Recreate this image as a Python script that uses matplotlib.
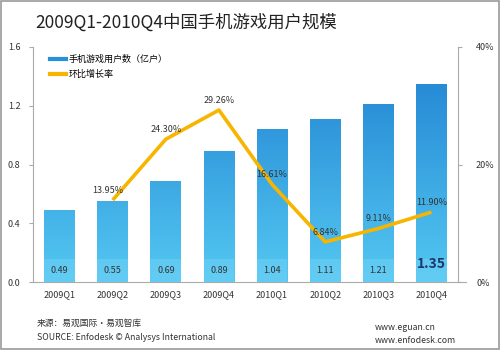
import matplotlib
matplotlib.use("Agg")
import matplotlib.pyplot as plt
import numpy as np
from matplotlib.colors import LinearSegmentedColormap
from matplotlib.lines import Line2D

plt.rcParams['font.family'] = ['Noto Sans CJK SC', 'DejaVu Sans']

categories = ['2009Q1', '2009Q2', '2009Q3', '2009Q4', '2010Q1', '2010Q2', '2010Q3', '2010Q4']
users = [0.49, 0.55, 0.69, 0.89, 1.04, 1.11, 1.21, 1.35]
growth = [None, 13.95, 24.30, 29.26, 16.61, 6.84, 9.11, 11.90]
left_ticks = [0.0, 0.4, 0.8, 1.2, 1.6]
right_ticks = [0, 20, 40]

fig = plt.figure(figsize=(5, 3.5), dpi=100)
fig.patch.set_facecolor('white')
# border
fig.add_artist(plt.Rectangle((0.002, 0.003), 0.996, 0.994, transform=fig.transFigure,
                             fill=False, edgecolor='#999999', lw=1.2))

ax = fig.add_axes([0.066, 0.194, 0.85, 0.672])
ax.set_xlim(-0.5, len(categories) - 0.5)
ax.set_ylim(0, 1.6)
x = np.arange(len(categories))

cmap = LinearSegmentedColormap.from_list('g', ['#54C8F2', '#1E7FD0'])
grad = np.linspace(0, 1, 256).reshape(-1, 1)
bw = 0.58
bars = ax.bar(x, users, width=bw, color='none', zorder=2)
for b in bars:
    x0, y0, w, h = b.get_x(), b.get_y(), b.get_width(), b.get_height()
    im = ax.imshow(grad, extent=[x0, x0 + w, 0, h], origin='lower', cmap=cmap,
                   aspect='auto', zorder=2, vmin=0, vmax=1.0 * 1.6 / h if h > 0 else 1)
    im.set_clip_path(b)
    # light box at bottom
    ax.add_patch(plt.Rectangle((x0, 0.0), w, 0.16, facecolor='#6FD0F5', edgecolor='none',
                               alpha=0.55, zorder=3))
ax.set_aspect('auto')
ax.set_xlim(-0.5, len(categories) - 0.5)
ax.set_ylim(0, 1.6)

for i, v in enumerate(users):
    if i == len(users) - 1:
        ax.text(i, 0.125, f'{v:.2f}', ha='center', va='center', fontsize=10,
                fontweight='bold', color='#1A3A6E', zorder=5)
    else:
        ax.text(i, 0.08, f'{v:.2f}', ha='center', va='center', fontsize=6.5,
                color='#333333', zorder=5)

for s in ['top', 'right', 'bottom']:
    ax.spines[s].set_visible(False)
ax.spines['left'].set_color('#AAAAAA')
ax.set_yticks(left_ticks)
ax.set_yticklabels([f'{t:.1f}' for t in left_ticks], fontsize=6.5, color='#333333')
ax.tick_params(axis='y', length=3, color='#AAAAAA', pad=6)
ax.set_xticks(x)
ax.set_xticklabels(categories, fontsize=6.5, color='#333333')
ax.tick_params(axis='x', length=0, pad=6)
ax.axhline(0, color='#AAAAAA', lw=0.8, xmin=0, xmax=1.02, clip_on=False, zorder=1)

ax2 = ax.twinx()
ax2.set_ylim(0, 40)
gx = [i for i, g in enumerate(growth) if g is not None]
gy = [g for g in growth if g is not None]
ax2.plot(gx, gy, color='#F7B500', lw=2.6, zorder=6, solid_capstyle='butt')
offsets = {1: (-0.1, 0.9), 2: (0, 0.9), 3: (0, 0.9), 4: (0, 0.9), 5: (0, 0.9), 6: (0, 0.9), 7: (0, 0.9)}
for i, g in zip(gx, gy):
    dx, dy = offsets[i]
    ax2.text(i + dx, g + dy, f'{g:.2f}%', ha='center', va='bottom', fontsize=6.5,
             color='#333333', zorder=7)
for s in ['top', 'left', 'bottom']:
    ax2.spines[s].set_visible(False)
ax2.spines['right'].set_color('#AAAAAA')
ax2.set_yticks(right_ticks)
ax2.set_yticklabels([f'{t}%' for t in right_ticks], fontsize=6.5, color='#333333')
ax2.tick_params(axis='y', length=3, color='#AAAAAA', pad=10)

handles = [Line2D([0], [0], color='#2A8FDB', lw=3), Line2D([0], [0], color='#F7B500', lw=3)]
leg = ax.legend(handles, ['手机游戏用户数（亿户）', '环比增长率'], loc='upper left',
                bbox_to_anchor=(0.02, 1.0), frameon=False, fontsize=6.5,
                handlelength=1.8, handletextpad=0.3, labelspacing=0.6)

fig.text(0.07, 0.935, '2009Q1-2010Q4中国手机游戏用户规模', fontsize=12.5, color='#222222',
         va='center', ha='left')
fig.text(0.074, 0.077, '来源：易观国际·易观智库', fontsize=6.3, color='#333333', va='center')
fig.text(0.074, 0.037, 'SOURCE: Enfodesk © Analysys International', fontsize=6.3,
         color='#333333', va='center')
fig.text(0.75, 0.065, 'www.eguan.cn', fontsize=6.3, color='#333333', va='center')
fig.text(0.75, 0.028, 'www.enfodesk.com', fontsize=6.3, color='#333333', va='center')

fig.savefig('out.png', dpi=100, facecolor='white')
